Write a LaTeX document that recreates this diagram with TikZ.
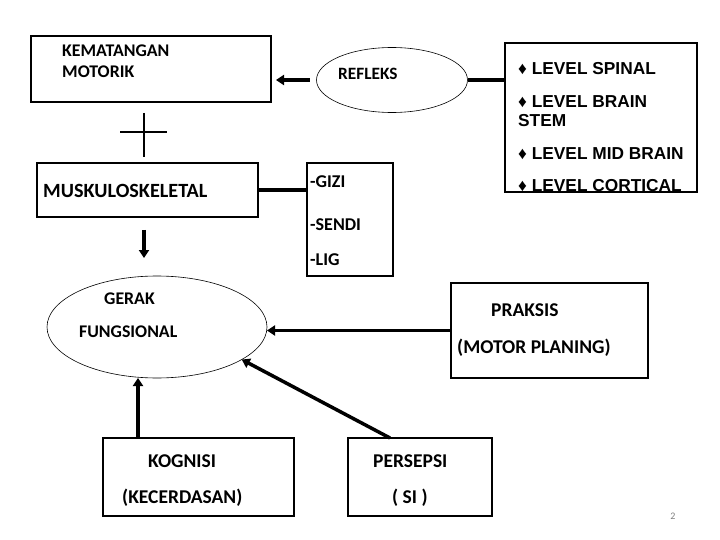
\documentclass[tikz,border=0pt]{standalone}
\usepackage{fontspec}
\setmainfont{Carlito}
\newfontfamily\levelfont{Liberation Sans}
\usetikzlibrary{shapes.geometric,arrows.meta}
\tikzset{
  box/.style={draw, line width=1.2pt, inner sep=0pt, outer sep=0pt},
  oval/.style={draw, ellipse, line width=0.6pt, inner sep=0pt, outer sep=0pt},
  txt/.style={anchor=base west, inner sep=0pt, font=\bfseries\fontsize{#1}{#1}\selectfont},
  txt/.default=18,
  lvl/.style={anchor=base west, inner sep=0pt, font=\levelfont\bfseries\fontsize{17.3}{17.3}\selectfont},
  link/.style={line width=3.5pt},
  arrow/.style={line width=3.5pt, -{Triangle[length=8pt,width=10pt]}}
}
\begin{document}
\begin{tikzpicture}[x=1pt,y=-1pt]
  \useasboundingbox (0,0) rectangle (720,540);
  \node[box, minimum width=240pt, minimum height=66pt] (kematangan) at (151,69) {};
  \node[oval, minimum width=151pt, minimum height=65pt] (refleks) at (392,80) {};
  \node[box, minimum width=192pt, minimum height=149pt] (level) at (601,117.5) {};
  \node[box, minimum width=221pt, minimum height=54pt] (musk) at (147.5,190) {};
  \node[box, minimum width=86pt, minimum height=113pt] (gizi) at (350,219.5) {};
  \node[oval, minimum width=220pt, minimum height=102pt] (gerak) at (157,327) {};
  \node[box, minimum width=197pt, minimum height=95pt] (praksis) at (549.5,330.5) {};
  \node[box, minimum width=191pt, minimum height=78pt] (kognisi) at (198.5,477) {};
  \node[box, minimum width=144pt, minimum height=78pt] (persepsi) at (420,477) {};

  \node[txt=17.8] (kematangan1) at (62,57) {KEMATANGAN};
  \node[txt=17.8] (kematangan2) at (62,78) {MOTORIK};
  \node[txt=17.3] (refleks1) at (338,80) {REFLEKS};
  \node[lvl] (level1) at (518,75) {♦ LEVEL SPINAL};
  \node[lvl] (level2) at (518,108) {♦ LEVEL BRAIN};
  \node[lvl] (level3) at (518,127) {STEM};
  \node[lvl] (level4) at (518,160) {♦ LEVEL MID BRAIN};
  \node[lvl] (level5) at (518,192) {♦ LEVEL CORTICAL};
  \node[txt=20.2] (musk1) at (43,197) {MUSKULOSKELETAL};
  \node[txt] (gizi1) at (310,188) {-GIZI};
  \node[txt] (gizi2) at (310,230) {-SENDI};
  \node[txt] (gizi3) at (310,265) {-LIG};
  \node[txt=17.8] (gerak1) at (104,304) {GERAK};
  \node[txt=17.8] (gerak2) at (79,337) {FUNGSIONAL};
  \node[txt=19.5] (praksis1) at (491,316) {PRAKSIS};
  \node[txt=19.5] (praksis2) at (457,353) {(MOTOR PLANING)};
  \node[txt=19.5] (kognisi1) at (148,467) {KOGNISI};
  \node[txt=19.5] (kognisi2) at (122,503) {(KECERDASAN)};
  \node[txt=19.5] (persepsi1) at (373,467) {PERSEPSI};
  \node[txt=19.5] (persepsi2) at (392,503) {( SI )};
  \node[anchor=base, inner sep=0pt, text=gray, font=\fontsize{10}{10}\selectfont] (page) at (673,519) {2};

  \coordinate (plus) at (144,132);
  \draw[line width=2pt] (plus) ++(0,-19) -- ++(0,44) (plus) ++(-24,0) -- ++(47,0);

  \coordinate (m1) at ([xshift=-3.5pt]musk.south);
  \coordinate (k1) at ([xshift=35pt]kognisi.north west);
  \coordinate (p1) at ([xshift=42pt]persepsi.north west);
  \begin{scope}
    \draw[arrow, shorten <=7pt, shorten >=5pt] (refleks.west) -- (refleks.west -| kematangan.east);
    \draw[link] (refleks.east) -- (refleks.east -| level.west);
    \draw[link] (musk.east) -- (musk.east -| gizi.west);
    \draw[arrow, shorten <=13pt, shorten >=18pt] (m1) -- (m1 |- gerak.north);
    \draw[arrow] (praksis.west) -- (praksis.west -| gerak.east);
    \draw[arrow] (k1) -- (k1 |- gerak.south);
    \draw[arrow] (p1) -- (gerak.-21);
  \end{scope}
\end{tikzpicture}
\end{document}
